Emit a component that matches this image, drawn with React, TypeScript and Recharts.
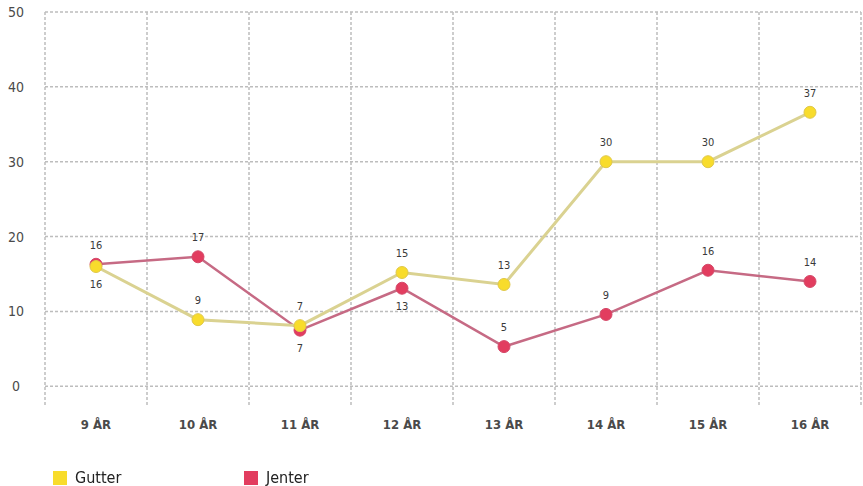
import React from 'react';
import { LineChart, Line, XAxis, YAxis, CartesianGrid, Legend } from 'recharts';

const categories = ['9 ÅR', '10 ÅR', '11 ÅR', '12 ÅR', '13 ÅR', '14 ÅR', '15 ÅR', '16 ÅR'];
const gutterValues = [16, 8.9, 8.1, 15.2, 13.6, 30, 30, 36.6];
const jenterValues = [16.3, 17.3, 7.5, 13.1, 5.3, 9.6, 15.5, 14.0];
const gutterLabels = ['16', '9', '7', '15', '13', '30', '30', '37'];
const jenterLabels = ['16', '17', '7', '13', '5', '9', '16', '14'];
const gutterLabelSide = ['below', 'above', 'above', 'above', 'above', 'above', 'above', 'above'];
const jenterLabelSide = ['above', 'above', 'below', 'below', 'above', 'above', 'above', 'above'];
const yTicks = [0, 10, 20, 30, 40, 50];

const FONT = '"DejaVu Sans Condensed", "DejaVu Sans", sans-serif';
const GUTTER_LINE = '#dad291';
const GUTTER_DOT = '#f8dc2c';
const JENTER_LINE = '#c66a84';
const JENTER_DOT = '#e23d5f';

const data = categories.map((name, i) => ({
  name,
  gutter: gutterValues[i],
  jenter: jenterValues[i],
}));

const makeLabel = (labels: string[], sides: string[]) => (props: any) => {
  const { x, y, index } = props;
  const dy = sides[index] === 'below' ? 18 : -19;
  return (
    <text
      key={`lbl-${index}`}
      x={x}
      y={y + dy}
      textAnchor="middle"
      dominantBaseline="central"
      fontFamily={FONT}
      fontSize={11}
      fill="#3a3a3a"
    >
      {labels[index]}
    </text>
  );
};

const XTick = (props: any) => {
  const { x, y, payload } = props;
  return (
    <text x={x} y={y + 16} textAnchor="middle" fontFamily={FONT} fontWeight="bold" fontSize={13} fill="#4a4a4a">
      {payload.value}
    </text>
  );
};

const YTick = (props: any) => {
  const { y, payload } = props;
  return (
    <text x={16} y={y} textAnchor="middle" dominantBaseline="central" fontFamily={FONT} fontSize={14} fill="#4a4a4a">
      {payload.value}
    </text>
  );
};

const LegendContent = () => (
  <div style={{ position: 'relative', height: 40, fontFamily: FONT, fontSize: 16, color: '#222' }}>
    <div style={{ position: 'absolute', left: 53, top: 25, width: 14, height: 14, background: GUTTER_DOT }} />
    <div style={{ position: 'absolute', left: 75, top: 22, lineHeight: '20px' }}>Gutter</div>
    <div style={{ position: 'absolute', left: 244, top: 25, width: 14, height: 14, background: JENTER_DOT }} />
    <div style={{ position: 'absolute', left: 266, top: 22, lineHeight: '20px' }}>Jenter</div>
  </div>
);

export default function App() {
  return (
    <div style={{ position: 'fixed', left: 0, top: 0, width: 863, height: 486, background: '#fff' }}>
      <LineChart width={863} height={486} data={data} margin={{ top: 12, right: 2, left: 0, bottom: 0 }}>
        <CartesianGrid
          stroke="#bdbdbd"
          strokeWidth={1.5}
          strokeDasharray="3 2"
          horizontalValues={yTicks}
          verticalCoordinatesGenerator={({ offset }: any) =>
            categories.map((_, i) => offset.left + (i * offset.width) / categories.length).concat(offset.left + offset.width)
          }
        />
        <XAxis dataKey="name" scale="band" axisLine={false} tickLine={false} height={41} tick={<XTick />} interval={0} />
        <YAxis
          domain={[-2.5, 50]}
          ticks={yTicks}
          width={45}
          axisLine={false}
          tickLine={false}
          tick={<YTick />}
          allowDataOverflow
        />
        <Legend verticalAlign="bottom" height={40} content={<LegendContent />} wrapperStyle={{ left: 0, width: 863 }} />
        <Line
          type="linear"
          dataKey="jenter"
          name="Jenter"
          stroke={JENTER_LINE}
          strokeWidth={2.5}
          dot={{ r: 6, fill: JENTER_DOT, stroke: '#d54a6a', strokeWidth: 1 }}
          activeDot={false}
          label={makeLabel(jenterLabels, jenterLabelSide)}
          isAnimationActive={false}
        />
        <Line
          type="linear"
          dataKey="gutter"
          name="Gutter"
          stroke={GUTTER_LINE}
          strokeWidth={3}
          dot={{ r: 6, fill: GUTTER_DOT, stroke: '#e0c84a', strokeWidth: 1 }}
          activeDot={false}
          label={makeLabel(gutterLabels, gutterLabelSide)}
          isAnimationActive={false}
        />
      </LineChart>
    </div>
  );
}
